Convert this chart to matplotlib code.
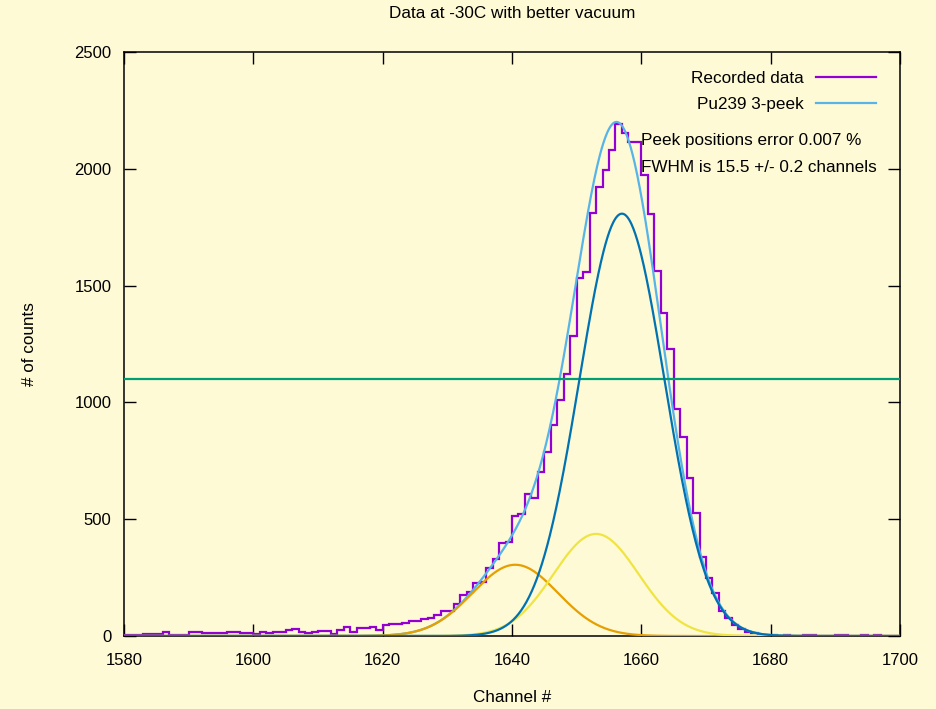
import numpy as np
import matplotlib
matplotlib.use("Agg")
import matplotlib.pyplot as plt
from matplotlib.lines import Line2D

plt.rcParams['font.family'] = ['Liberation Sans', 'DejaVu Sans']

# ---- data -------------------------------------------------------------
channel_start = 1580
counts = [
    5, 5, 6, 10, 8, 9, 15, 5, 5, 6,            # 1580-1589
    18, 18, 11, 13, 12, 13, 16, 16, 14, 14,    # 1590-1599
    9, 15, 11, 17, 18, 26, 29, 18, 14, 16,     # 1600-1609
    21, 22, 10, 26, 40, 18, 33, 35, 37, 26,    # 1610-1619
    48, 50, 52, 54, 64, 66, 71, 78, 92, 107,   # 1620-1629
    108, 137, 177, 190, 225, 232, 292, 328, 400, 404,      # 1630-1639
    512, 523, 608, 590, 700, 789, 903, 1010, 1120, 1284,   # 1640-1649
    1531, 1557, 1809, 1924, 1995, 2080, 2192, 2155, 2113, 2113,  # 1650-1659
    1973, 1806, 1564, 1381, 1229, 970, 852, 677, 528, 340,  # 1660-1669
    250, 186, 105, 79, 47, 31, 18, 11, 6, 4,   # 1670-1679
    3, 0, 5, 2, 0, 3, 4, 0, 2, 0,              # 1680-1689
    4, 3, 0, 2, 5, 0, 3, 0, 2, 0,              # 1690-1699
]
edges = np.arange(channel_start, channel_start + len(counts) + 1)

# fitted 3-peak model (Pu239): amplitudes, centres, common sigma
peak_amps = [1808, 437, 305]
peak_centres = [1657.0, 1653.0, 1640.5]
fwhm = 15.5
sigma = fwhm / 2.3548

labels_legend = ["Recorded data", "Pu239 3-peek"]
title = "Data at -30C with better vacuum"
note1 = "Peek positions error 0.007 %"
note2 = "FWHM is 15.5 +/- 0.2 channels"

xticks = list(range(1580, 1701, 20))
yticks = list(range(0, 2501, 500))

# ---- colours -----------------------------------------------------------
bg = '#fefad6'
c_data = '#9400d3'
c_sum = '#56b4e9'
c_half = '#009e73'
c_p3 = '#e69f00'
c_p2 = '#f0e442'
c_p1 = '#0072b2'

W, H = 936, 709
fig = plt.figure(figsize=(W / 100, H / 100), dpi=100, facecolor=bg)
L, R, T, B = 124, 900, 52, 636
ax = fig.add_axes([L / W, 1 - B / H, (R - L) / W, (B - T) / H])
ax.set_facecolor(bg)

xg = np.linspace(1580, 1700, 1200)
comps = [a * np.exp(-(xg - m) ** 2 / (2 * sigma ** 2)) for a, m in zip(peak_amps, peak_centres)]
total = comps[0] + comps[1] + comps[2]
half_max = total.max() / 2

lw = 1.6
ax.stairs(counts, edges, baseline=None, color=c_data, lw=lw, zorder=3)
ax.plot(xg, total, color=c_sum, lw=lw, zorder=4)
ax.axhline(half_max, color=c_half, lw=lw, zorder=4)
ax.plot(xg, comps[2], color=c_p3, lw=lw, zorder=5)
ax.plot(xg, comps[1], color=c_p2, lw=lw, zorder=5)
ax.plot(xg, comps[0], color=c_p1, lw=lw, zorder=6)

ax.set_xlim(1580, 1700)
ax.set_ylim(0, 2500)
ax.set_xticks(xticks)
ax.set_yticks(yticks)
ax.tick_params(direction='in', length=8.6, width=1.0, top=True, right=True,
               labelsize=12, color='black')
ax.tick_params(axis='x', pad=12)
ax.tick_params(axis='y', pad=9)
for s in ax.spines.values():
    s.set_linewidth(1.1)
    s.set_color('black')

fs = 12.3
fig.text((L + R) / 2 / W, 1 - 14 / H, title, ha='center', va='center', fontsize=fs)
fig.text((L + R) / 2 / W, 1 - 697 / H, "Channel #", ha='center', va='center', fontsize=fs)
fig.text(30 / W, 1 - 344 / H, "# of counts", ha='center', va='center', rotation=90, fontsize=fs)

fig.text(641 / W, 1 - 140 / H, note1, ha='left', va='center', fontsize=fs, zorder=10)
fig.text(641 / W, 1 - 168 / H, note2, ha='left', va='center', fontsize=fs, zorder=10)

hd = Line2D([], [], color=c_data, lw=lw)
hs = Line2D([], [], color=c_sum, lw=lw)
pxpt = fs * 100 / 72
fig.legend([hd, hs], labels_legend, loc='upper right',
           bbox_to_anchor=(876 / W, 1 - 71 / H), markerfirst=False,
           frameon=False, fontsize=fs, borderpad=0, borderaxespad=0,
           handlelength=60 / pxpt, handletextpad=12 / pxpt,
           labelspacing=0.62)

fig.savefig('out.png', dpi=100, facecolor=bg)
